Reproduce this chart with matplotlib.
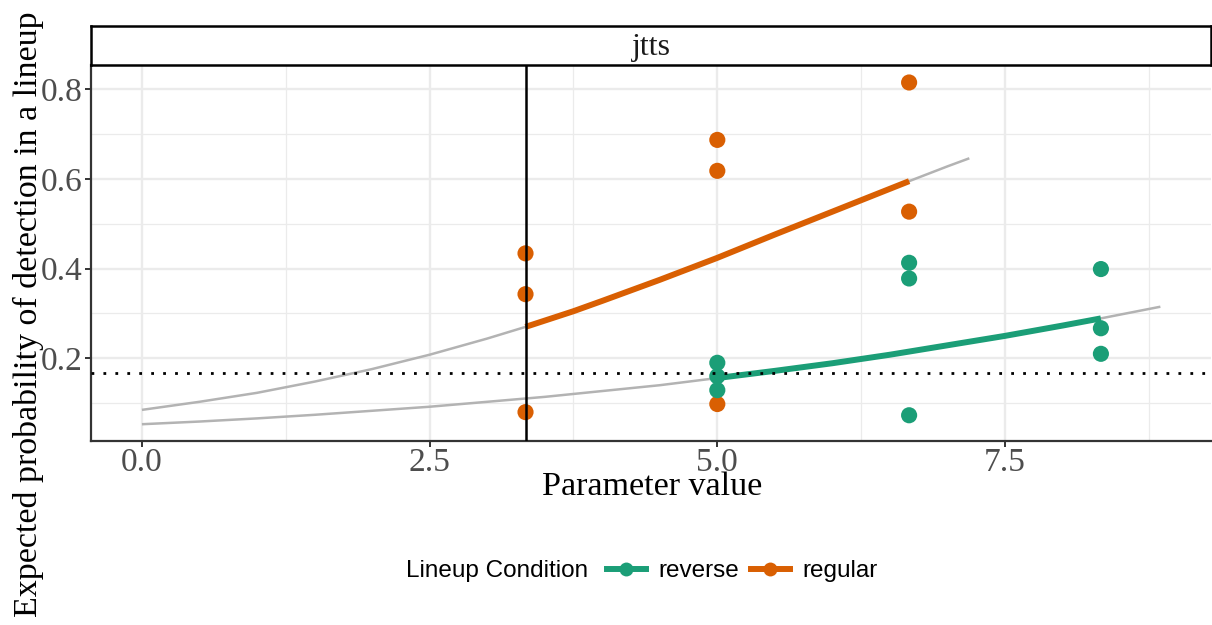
import matplotlib
matplotlib.use("Agg")
import matplotlib.pyplot as plt
from matplotlib.lines import Line2D
import numpy as np

# Observed detection rates per lineup condition
regular_x = [10/3, 10/3, 10/3, 5.0, 5.0, 5.0, 20/3, 20/3]
regular_y = [0.434, 0.343, 0.080, 0.687, 0.618, 0.098, 0.815, 0.527]
reverse_x = [5.0, 5.0, 5.0, 20/3, 20/3, 20/3, 25/3, 25/3, 25/3]
reverse_y = [0.190, 0.160, 0.129, 0.413, 0.378, 0.073, 0.399, 0.267, 0.210]

# Fitted curves (expected probability) for each condition
fit_regular_x = [0.0, 0.5, 1.0, 1.5, 2.0, 2.5, 3.0, 3.333, 3.75, 4.0, 4.5,
                 5.0, 5.5, 6.0, 6.5, 6.667, 7.0, 7.19]
fit_regular_y = [0.085, 0.103, 0.123, 0.148, 0.176, 0.208, 0.244, 0.270, 0.305,
                 0.328, 0.375, 0.424, 0.476, 0.527, 0.578, 0.595, 0.628, 0.646]
fit_reverse_x = [0.0, 0.5, 1.0, 1.5, 2.0, 2.5, 3.0, 3.5, 4.0, 4.5, 5.0, 5.5,
                 6.0, 6.5, 7.0, 7.5, 8.0, 8.333, 8.85]
fit_reverse_y = [0.053, 0.059, 0.066, 0.074, 0.083, 0.092, 0.103, 0.114, 0.127,
                 0.140, 0.156, 0.172, 0.189, 0.208, 0.229, 0.250, 0.273, 0.289,
                 0.315]

chance_level = 1/6
reference_param = 10/3
panel_label = "jtts"
conditions = ["reverse", "regular"]
colors = {"reverse": "#1B9E77", "regular": "#D95F02"}

W, H = 1212, 625
fig = plt.figure(figsize=(W/100, H/100), dpi=100)
serif = "Liberation Serif"
sans = "Liberation Sans"

ax = fig.add_axes([91/W, 1-441/H, 1120/W, (441-65)/H])
ax.set_xlim(-0.4425, 9.29)
ax.set_ylim(0.0156, 0.854)

# grid
for v in [1.25, 3.75, 6.25, 8.75]:
    ax.axvline(v, color="#EBEBEB", lw=0.9, zorder=0)
for v in [0.0, 2.5, 5.0, 7.5]:
    ax.axvline(v, color="#EBEBEB", lw=1.7, zorder=0)
for v in [0.1, 0.3, 0.5, 0.7]:
    ax.axhline(v, color="#EBEBEB", lw=0.9, zorder=0)
for v in [0.2, 0.4, 0.6, 0.8]:
    ax.axhline(v, color="#EBEBEB", lw=1.7, zorder=0)

data = {
    "regular": (regular_x, regular_y, fit_regular_x, fit_regular_y),
    "reverse": (reverse_x, reverse_y, fit_reverse_x, fit_reverse_y),
}
for name in ["regular", "reverse"]:
    px, py, fx, fy = data[name]
    fx = np.asarray(fx); fy = np.asarray(fy)
    ax.plot(fx, fy, color="#B3B3B3", lw=1.8, zorder=2, solid_capstyle="butt")
    lo, hi = min(px), max(px)
    m = (fx >= lo - 1e-3) & (fx <= hi + 1e-3)
    ax.plot(fx[m], fy[m], color=colors[name], lw=4.3, zorder=3,
            solid_capstyle="butt", solid_joinstyle="round")

for name in ["regular", "reverse"]:
    px, py, _, _ = data[name]
    ax.scatter(px, py, s=135, color=colors[name], edgecolors="none", zorder=4)

ax.axhline(chance_level, color="black", lw=2.0, ls=(0, (1, 3.3)), zorder=5)
ax.axvline(reference_param, color="black", lw=1.8, zorder=6)

for s in ["top", "right"]:
    ax.spines[s].set_visible(False)
for s in ["left", "bottom"]:
    ax.spines[s].set_color("#333333")
    ax.spines[s].set_linewidth(1.6)

ax.set_xticks([0.0, 2.5, 5.0, 7.5])
ax.set_xticklabels(["0.0", "2.5", "5.0", "7.5"])
ax.set_yticks([0.2, 0.4, 0.6, 0.8])
ax.set_yticklabels(["0.2", "0.4", "0.6", "0.8"])
ax.tick_params(axis="both", length=4, width=1.4, color="#333333",
               labelcolor="#4D4D4D", labelsize=24, pad=2)
ax.tick_params(axis="x", pad=1)
for lab in ax.get_xticklabels() + ax.get_yticklabels():
    lab.set_fontfamily(serif)

# facet strip
sax = fig.add_axes([91/W, 1-65/H, 1120/W, 39/H])
sax.set_xticks([]); sax.set_yticks([])
for s in sax.spines.values():
    s.set_color("black"); s.set_linewidth(1.8)
sax.text(0.5, 0.45, panel_label, ha="center", va="center", fontsize=23,
         family=serif, color="#1A1A1A", transform=sax.transAxes)

fig.text(652/W, 1-495/H, "Parameter value", ha="center", va="baseline",
         fontsize=24.5, family=serif, color="black")
fig.text(28/W, 1-314/H, "Expected probability of detection in a lineup",
         rotation=90, ha="center", va="center", fontsize=24.5, family=serif,
         color="black")

# legend
fig.text(406/W, 1-571/H, "Lineup Condition", ha="left", va="center",
         fontsize=17.5, family=sans, color="black")
handles = [Line2D([], [], color=colors[c], lw=4.3, marker="o", ms=10,
                  markeredgewidth=0) for c in conditions]
fig.legend(handles, conditions, loc="center left",
           bbox_to_anchor=(607/W, 1-571/H), ncol=2, frameon=False,
           borderpad=0, borderaxespad=0, handlelength=1.6, handletextpad=0.5,
           columnspacing=0.5, prop={"family": sans, "size": 17.5})

fig.savefig("out.png", dpi=100)
